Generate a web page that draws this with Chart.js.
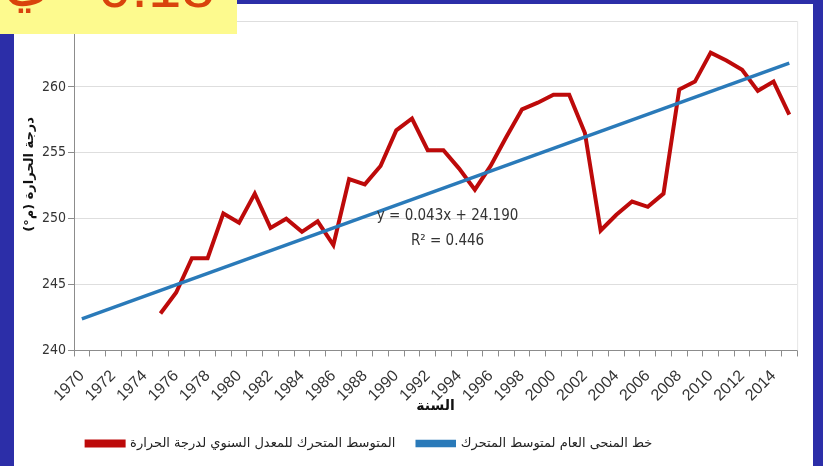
<!DOCTYPE html>
<html>
<head>
<meta charset="utf-8">
<script src="https://cdn.jsdelivr.net/npm/chart.js@4.4.0/dist/chart.umd.min.js"></script>
<style>
    html, body { margin: 0; padding: 0; }
    body { width: 823px; height: 466px; background: #2c2ea8; position: relative; overflow: hidden; }
    #panel { position: absolute; left: 14px; top: 4px; width: 799px; height: 462px; background: #fff; }
    #note { position: absolute; left: 0; top: 0; width: 237px; height: 34px; background: #fdfa8e; overflow: hidden; z-index: 2; }
    #note span { position: absolute; font: 60px "DejaVu Sans", "Liberation Sans", sans-serif; color: #d9430c; white-space: nowrap; }
    #note .ar { left: 4px; top: -58px; }
    #note .num { left: 98px; top: -48px; font-family: "Liberation Sans", Arial, sans-serif; }
</style>
</head>
<body>
<div id="note"><span class="ar">ي</span><span class="num">0.18</span></div>
<div id="panel"><canvas id="tempChart" width="799" height="462"></canvas></div>
<script>
// Categories (years)
const years = ['1970', '1971', '1972', '1973', '1974', '1975', '1976', '1977', '1978', '1979',
    '1980', '1981', '1982', '1983', '1984', '1985', '1986', '1987', '1988', '1989',
    '1990', '1991', '1992', '1993', '1994', '1995', '1996', '1997', '1998', '1999',
    '2000', '2001', '2002', '2003', '2004', '2005', '2006', '2007', '2008', '2009',
    '2010', '2011', '2012', '2013', '2014', '2015'];

// Moving average of the annual temperature (x10)
const movingAvg = [null, null, null, null, null,
    242.8, 244.4, 247.0, 247.0, 250.4, 249.7, 251.9, 249.3, 250.0, 249.0,
    249.8, 248.0, 253.0, 252.6, 254.0, 256.7, 257.6, 255.2, 255.2, 253.8,
    252.2, 254.0, 256.2, 258.3, 258.8, 259.4, 259.4, 256.5, 249.1, 250.3,
    251.3, 250.9, 251.9, 259.8, 260.4, 262.6, 262.0, 261.3, 259.7, 260.4, 257.9];

// Linear trend line: only its two end values
const trendLine = [242.4, null, null, null, null, null, null, null, null, null,
    null, null, null, null, null, null, null, null, null, null,
    null, null, null, null, null, null, null, null, null, null,
    null, null, null, null, null, null, null, null, null, null,
    null, null, null, null, null, 261.8];

const yTicks = [240, 245, 250, 255, 260, 265];
const equationLines = ['y = 0.043x + 24.190', 'R² = 0.446'];

const movingLabel = 'المتوسط المتحرك للمعدل السنوي لدرجة الحرارة';
const trendLabel = 'خط المنحى العام لمتوسط المتحرك';
const yTitle = '\u00a0\u00a0\u00a0\u00a0\u00a0درجة الحرارة (م°)';

Chart.defaults.font.family = '"Liberation Sans", Arial, sans-serif';
Chart.defaults.color = '#404040';

// Trend equation text in the plot
const equationPlugin = {
    id: 'equation',
    afterLayout(chart) {
        // legend group sits left of centre in the original
        chart.legend.left -= 41;
        chart.legend.right -= 41;
    },
    afterDatasetsDraw(chart) {
        const ctx = chart.ctx;
        const area = chart.chartArea;
        const y = chart.scales.y;
        const cx = (area.left + area.right) / 2 + 12;
        ctx.save();
        ctx.fillStyle = '#333';
        ctx.font = '15px "Liberation Sans Narrow", "DejaVu Sans Condensed", "Liberation Sans", sans-serif';
        ctx.textAlign = 'center';
        ctx.textBaseline = 'middle';
        ctx.fillText(equationLines[0], cx, y.getPixelForValue(250.2));
        ctx.fillText(equationLines[1], cx, y.getPixelForValue(248.3));
        // faint frame at the right of the plot
        ctx.strokeStyle = '#e6e6e6';
        ctx.lineWidth = 1;
        ctx.beginPath();
        ctx.moveTo(area.right + 0.5, area.top);
        ctx.lineTo(area.right + 0.5, area.bottom);
        ctx.stroke();
        ctx.restore();
    }
};

new Chart(document.getElementById('tempChart'), {
    type: 'line',
    data: {
        labels: years,
        datasets: [{
            label: trendLabel,
            data: trendLine,
            borderColor: '#2a7ab9',
            backgroundColor: '#2a7ab9',
            borderWidth: 3.5,
            pointRadius: 0,
            spanGaps: true,
            fill: false
        }, {
            label: movingLabel,
            data: movingAvg,
            borderColor: '#bd0a0a',
            backgroundColor: '#bd0a0a',
            borderWidth: 4,
            pointRadius: 0,
            tension: 0,
            fill: false
        }]
    },
    options: {
        responsive: false,
        animation: false,
        layout: {
            padding: { left: 8, right: 14, top: 17, bottom: 6 }
        },
        plugins: {
            legend: {
                display: true,
                position: 'bottom',
                reverse: true,
                labels: {
                    boxWidth: 37,
                    boxHeight: 4,
                    padding: 22,
                    color: '#222',
                    font: { family: '"DejaVu Sans", sans-serif', size: 13 }
                }
            },
            tooltip: { enabled: false },
            title: { display: false }
        },
        scales: {
            x: {
                type: 'category',
                offset: true,
                afterFit: function(scale) {
                    scale.height -= 9;
                },
                grid: {
                    offset: true,
                    drawOnChartArea: false,
                    drawTicks: true,
                    tickLength: 6,
                    color: '#8c8c8c'
                },
                border: { color: '#8c8c8c' },
                ticks: {
                    autoSkip: false,
                    maxRotation: 45,
                    minRotation: 45,
                    padding: 10,
                    color: '#333',
                    font: { size: 16 },
                    callback: function(value, index) {
                        const yr = years[index];
                        return Number(yr) % 2 === 0 ? yr : '';
                    }
                },
                title: {
                    display: true,
                    text: 'السنة',
                    color: '#111',
                    padding: { top: -8, bottom: 0 },
                    font: { family: '"DejaVu Sans", sans-serif', size: 14, weight: 'bold' }
                }
            },
            y: {
                min: 240,
                max: 265,
                afterBuildTicks: function(scale) {
                    scale.ticks = yTicks.map(v => ({ value: v }));
                },
                afterFit: function(scale) {
                    scale.width = 52;
                },
                grid: {
                    color: '#dedede',
                    tickLength: 6,
                    tickColor: '#8c8c8c'
                },
                border: { color: '#8c8c8c' },
                ticks: {
                    padding: 2,
                    color: '#333',
                    font: { family: '"Liberation Sans Narrow", "DejaVu Sans Condensed", "Liberation Sans", sans-serif', size: 14 }
                },
                title: {
                    display: true,
                    text: yTitle,
                    color: '#111',
                    padding: { top: 0, bottom: 0 },
                    font: { family: '"DejaVu Sans", sans-serif', size: 13, weight: 'bold' }
                }
            }
        }
    },
    plugins: [equationPlugin]
});
</script>
</body>
</html>
